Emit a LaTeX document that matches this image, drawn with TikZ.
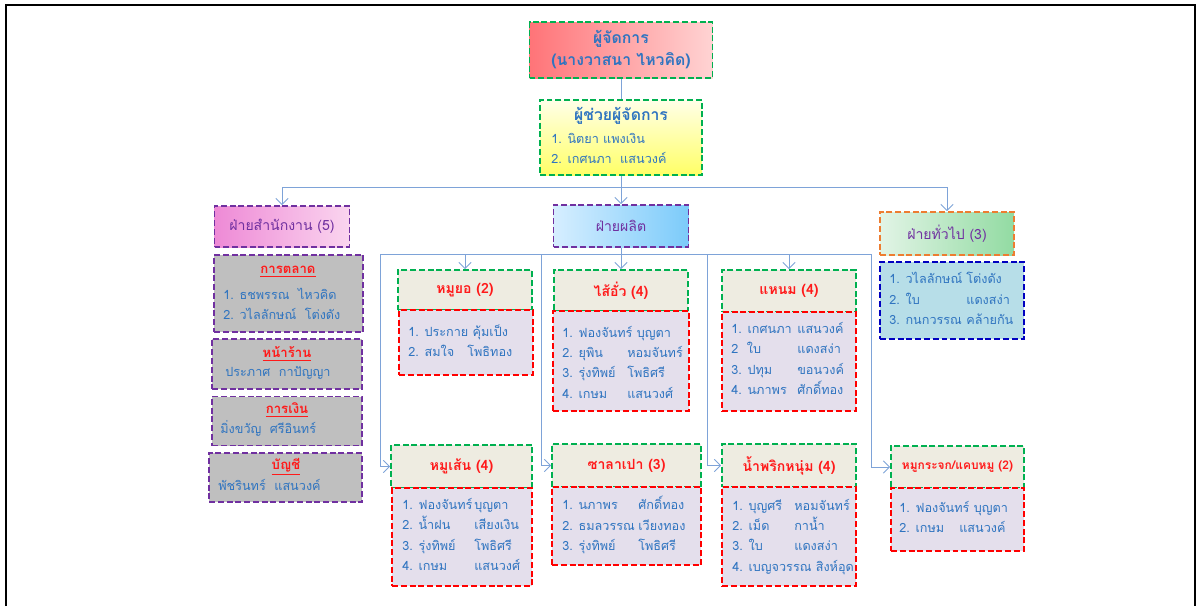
\documentclass[tikz,border=0pt]{standalone}
\usepackage{fontspec}
\setmainfont{Loma}[Script=Thai]
\usetikzlibrary{arrows.meta}
\definecolor{nameblue}{HTML}{2F74C0}
\definecolor{titlered}{HTML}{FF1A1A}
\definecolor{deptpurple}{HTML}{7030A0}
\definecolor{headgreen}{HTML}{00B050}
\definecolor{listred}{HTML}{FF0000}
\definecolor{genline}{HTML}{ED7D31}
\definecolor{genlistline}{HTML}{0000C0}
\definecolor{headfill}{HTML}{EEECE1}
\definecolor{listfill}{HTML}{E4DFEC}
\definecolor{officegray}{HTML}{BFBFBF}
\definecolor{genlistfill}{HTML}{B7DEE8}
\definecolor{linkblue}{HTML}{7EA3D8}
\definecolor{mgrleft}{HTML}{FF7478}
\definecolor{mgrright}{HTML}{FFD3D3}
\definecolor{asstop}{HTML}{FFFFE8}
\definecolor{asstbottom}{HTML}{FFFF66}
\definecolor{offleft}{HTML}{EE8AD6}
\definecolor{offright}{HTML}{FAD5EF}
\definecolor{prodleft}{HTML}{D6EEFF}
\definecolor{prodright}{HTML}{7CCBFA}
\definecolor{genleft}{HTML}{E2F4E6}
\definecolor{genright}{HTML}{92DBA2}
\newcommand{\names}[2]{\begin{tabular}{@{}p{#1}@{}l@{}}#2\end{tabular}}
\newcommand{\wide}[1]{\multicolumn{2}{@{}l@{}}{#1}}
\tikzset{
  dashbox/.style={line width=1.1pt, dash pattern=on 3.4pt off 1.6pt, inner sep=0pt},
  boxsize/.style 2 args={minimum width=#1*0.02cm, minimum height=#2*0.02cm},
  dept/.style={dashbox, draw=deptpurple, text=deptpurple, font=\fontsize{8}{9}\selectfont},
  grouphead/.style={dashbox, draw=headgreen, fill=headfill, text=titlered, font=\fontsize{8}{9}\selectfont\bfseries},
  grouplist/.style={dashbox, draw=listred, fill=listfill},
  officebox/.style={dashbox, draw=deptpurple, fill=officegray},
  subtitle/.style={text=titlered, font=\fontsize{7.5}{9}\selectfont\bfseries, inner sep=0pt},
  names/.style={text=nameblue, font=\fontsize{7.2}{11.6}\selectfont, anchor=west, inner sep=0pt},
  link/.style={draw=linkblue, line width=0.5pt},
}
\begin{document}
\begin{tikzpicture}[x=0.02cm, y=-0.02cm, >={Straight Barb[length=3.5pt,width=7pt]}]
\useasboundingbox (0,0) rectangle (1197,606);
\draw[line width=1.4pt] (6,606) -- (6,5) -- (1195,5) -- (1195,606);

\node[dashbox, boxsize={183}{56}, draw=headgreen, left color=mgrleft, right color=mgrright, text=nameblue, align=center, font=\fontsize{9}{12.5}\selectfont\bfseries] (mgr) at (621,50) {ผู้จัดการ\\(นางวาสนา ไหวคิด)};
\node[dashbox, boxsize={162}{75}, draw=headgreen, top color=asstop, bottom color=asstbottom] (asst) at (621,137.5) {};
\node[text=nameblue, font=\fontsize{9}{10}\selectfont\bfseries, inner sep=0pt] (assttitle) at (621,116) {ผู้ช่วยผู้จัดการ};
\node[names, align=left] (asstnames) at (551,148.5) {1. นิตยา แพงเงิน\\2. เกศนภา\ \ แสนวงค์};

\node[dept, boxsize={135}{41}, left color=offleft, right color=offright] (office) at (282,226.5) {ฝ่ายสำนักงาน (5)};
\node[dept, boxsize={135}{42}, left color=prodleft, right color=prodright] (prod) at (621,226) {ฝ่ายผลิต};
\node[dept, boxsize={134}{43}, draw=genline, left color=genleft, right color=genright] (gen) at (947,233.5) {ฝ่ายทั่วไป (3)};
\node[dashbox, boxsize={144}{77}, draw=genlistline, fill=genlistfill] (genlist) at (952,300.5) {};
\node[names] (gennames) at (889,300) {\names{1.54cm}{1. วไลลักษณ์ & โต่งดัง\\2. ใบ & แดงสง่า\\3. กนกวรรณ & คล้ายกัน}};

\node[officebox, boxsize={149}{77}] (mkt) at (288.5,293.5) {};
\node[subtitle] (mkttitle) at (288,272) {\underline{การตลาด}};
\node[names, align=left] (mktnames) at (223,304) {1. ธชพรรณ\ \ ไหวคิด\\2. วไลลักษณ์\ \ โต่งดัง};
\node[officebox, boxsize={150}{50}] (shop) at (287,364) {};
\node[subtitle] (shoptitle) at (287,354) {\underline{หน้าร้าน}};
\node[names] (shopnames) at (225,373) {ประภาศ\ \ กาปัญญา};
\node[officebox, boxsize={150}{49}] (fin) at (287,421) {};
\node[subtitle] (fintitle) at (287,410) {\underline{การเงิน}};
\node[names] (finnames) at (220,428) {มิ่งขวัญ\ \ ศรีอินทร์};
\node[officebox, boxsize={153}{49}] (acc) at (285.5,477.5) {};
\node[subtitle] (acctitle) at (286,467) {\underline{บัญชี}};
\node[names] (accnames) at (218,485) {พัชรินทร์\ \ แสนวงค์};

\node[grouphead, boxsize={134}{40}] (yohead) at (465,290) {หมูยอ (2)};
\node[grouplist, boxsize={134}{65}] (yolist) at (466,342.5) {};
\node[names] (yonames) at (408,342.5) {\names{1.18cm}{\wide{1. ประกาย คุ้มเป็ง}\\2. สมใจ & โพธิทอง}};
\node[grouphead, boxsize={134}{41}] (saihead) at (621,290.5) {ไส้อั่ว (4)};
\node[grouplist, boxsize={136}{100}] (sailist) at (621,361) {};
\node[names] (sainames) at (562,363.5) {\names{1.3cm}{\wide{1. ฟองจันทร์ บุญตา}\\2. ยุพิน & หอมจันทร์\\3. รุ่งทิพย์ & โพธิศรี\\4. เกษม & แสนวงศ์}};
\node[grouphead, boxsize={134}{42}] (naemhead) at (789,291) {แหนม (4)};
\node[grouplist, boxsize={134}{99}] (naemlist) at (789,361.5) {};
\node[names] (naemnames) at (731,360) {\names{1.32cm}{1. เกศนภา & แสนวงค์\\2\ \ ใบ & แดงสง่า\\3. ปทุม & ขอนวงค์\\4. นภาพร & ศักดิ์ทอง}};

\node[grouphead, boxsize={141}{43}] (senhead) at (461.5,466.5) {หมูเส้น (4)};
\node[grouplist, boxsize={140}{98}] (senlist) at (462,537) {};
\node[names] (sennames) at (402,536) {\names{1.44cm}{1. ฟองจันทร์ & บุญตา\\2. น้ำฝน & เสียงเงิน\\3. รุ่งทิพย์ & โพธิศรี\\4. เกษม & แสนวงศ์}};
\node[grouphead, boxsize={149}{43}] (sahead) at (626.5,465.5) {ซาลาเปา (3)};
\node[grouplist, boxsize={149}{78}] (salist) at (626.5,526) {};
\node[names] (sanames) at (562,526) {\names{1.52cm}{1. นภาพร & ศักดิ์ทอง\\2. ธมลวรรณ & เวียงทอง\\3. รุ่งทิพย์ & โพธิศรี}};
\node[grouphead, boxsize={134}{43}] (namhead) at (789,465.5) {น้ำพริกหนุ่ม (4)};
\node[grouplist, boxsize={134}{99}] (namlist) at (789,536.5) {};
\node[names] (namnames) at (732,536.5) {\names{1.24cm}{1. บุญศรี & หอมจันทร์\\2. เม็ด & กาน้ำ\\3. ใบ & แดงสง่า\\\wide{4. เบญจวรรณ\ สิงห์อุด}}};
\node[grouphead, boxsize={133}{42}, font=\fontsize{6.8}{8}\selectfont\bfseries] (krhead) at (957.5,467) {หมูกระจก/แคบหมู (2)};
\node[grouplist, boxsize={133}{63}] (krlist) at (957.5,519.5) {};
\node[names] (krnames) at (899,518.5) {\names{1.2cm}{\wide{1. ฟองจันทร์ บุญตา}\\2. เกษม & แสนวงค์}};

\coordinate (topbus) at (621,187);
\coordinate (prodbus) at (621,254);
\coordinate (senturn) at (380,466.5);
\coordinate (saturn) at (541,465.5);
\coordinate (namturn) at (707,465.5);
\coordinate (krturn) at (871,467);
\draw[link] (mgr) -- (asst);
\draw[link] (asst) -- (topbus);
\draw[link,->] (topbus) -| (office);
\draw[link,->] (topbus) -- (prod);
\draw[link,->] (topbus) -| (gen);
\draw[link] (prod) -- (prodbus);
\draw[link,->] (prodbus) -| (yohead);
\draw[link,->] (prodbus) -- (saihead);
\draw[link,->] (prodbus) -| (naemhead);
\draw[link,->] (prodbus) -| (senturn) -- (senhead);
\draw[link,->] (prodbus) -| (saturn) -- (sahead);
\draw[link,->] (prodbus) -| (namturn) -- (namhead);
\draw[link,->] (prodbus) -| (krturn) -- (krhead);
\end{tikzpicture}
\end{document}
